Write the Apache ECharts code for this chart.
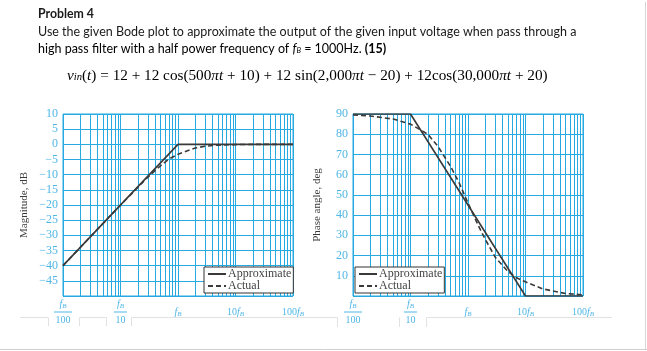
<!DOCTYPE html>
<html><head><meta charset="utf-8">
<script src="https://cdn.jsdelivr.net/npm/echarts@6/dist/echarts.min.js"></script>
<style>html,body{margin:0;padding:0;background:#fff}#c{width:647px;height:351px}</style>
</head><body><div id="c"></div>
<script>
// ---- data (frequency given as f / fB) ----
const freqTickValues = [0.01, 0.1, 1, 10, 100];
const freqTickLabels = [
  '{f|f}{s|B}\n{bar| }\n{d|100}',
  '{f|f}{s|B}\n{bar2| }\n{d|10}',
  '{f|f}{s|B}',
  '{d|10}{f|f}{s|B}',
  '{d|100}{f|f}{s|B}'
];
const minorMultipliers = [2, 3, 4, 5, 6, 7, 8, 9];

const magTickMin = -50, magTickMax = 10, magTickStep = 5;
const phaseTickMin = 0, phaseTickMax = 90, phaseTickStep = 10;

const approxMagFreq = [0.01, 1, 100];
const approxMag     = [-40, 0, 0];
const actualMagFreq = [0.01, 0.05, 0.1, 0.2, 0.3, 0.5, 0.7, 1, 1.5, 2, 3, 5, 10, 30, 100];
const actualMag     = [-40, -26, -20, -14.2, -10.8, -7, -4.8, -3.3, -2, -1.2, -0.6, -0.25, -0.08, 0, 0];

const approxPhaseFreq = [0.01, 0.1, 10, 100];
const approxPhase     = [90, 90, 0, 0];
const actualPhaseFreq = [0.01, 0.02, 0.05, 0.1, 0.2, 0.3, 0.5, 0.7, 1, 1.5, 2, 3, 5, 7, 10, 20, 50, 100];
const actualPhase     = [89.5, 89, 87.5, 85, 80, 74, 64, 56, 46, 35, 28, 19, 12, 9, 7, 3.5, 1.2, 0.6];

const seriesNames = ['Approximate', 'Actual'];

// ---- styles ----
const GRID = '#27aae1';
const LBL = '#4fb6e6';
const INK = '#3a3a3a';
const SERIF = 'Liberation Serif';
const SANS = 'Lato';

const pairs = (xs, ys) => xs.map((x, i) => [x, ys[i]]);
const minorFreqs = [];
freqTickValues.slice(0, -1).forEach(d => minorMultipliers.forEach(m => minorFreqs.push(+(d * m).toPrecision(6))));

const ctx = document.createElement('canvas').getContext('2d');
function w(text, font) { ctx.font = font; return ctx.measureText(text).width; }
function fit(text, fontTpl, target) { return 100 * target / w(text, fontTpl.replace('#', '100px')); }

const line1 = 'Use the given Bode plot to approximate the output of the given input voltage when pass through a';
const bodySize = fit(line1, '# ' + SANS, 539);
const titleSize = fit('Problem 4', 'bold # ' + SANS, 56);

// formula pieces
const fParts = [
  ['i', 'v'], ['sub', 'in'], ['n', '('], ['i', 't'], ['n', ') = 12 + 12 cos(500'], ['i', '\u03c0t'],
  ['n', ' + 10) + 12 sin(2,000'], ['i', '\u03c0t'], ['n', ' \u2212 20) + 12cos(30,000'], ['i', '\u03c0t'], ['n', ' + 20)']
];
let fw = 0;
fParts.forEach(([k, t]) => {
  if (k === 'n') fw += w(t, '100px ' + SERIF);
  else if (k === 'i') fw += w(t, 'italic 100px ' + SERIF);
  else fw += w(t, 'italic 70px ' + SERIF);
});
const fSize = 100 * 481 / fw;
const formulaText = fParts.map(([k, t]) => '{' + k + '|' + t + '}').join('');

function labelFmt(v) {
  const idx = Math.round(Math.log10(v)) + 2;
  return freqTickLabels[idx] || '';
}
const xRich = {
  f: { fontFamily: SERIF, fontStyle: 'italic', fontSize: 10, color: LBL },
  s: { fontFamily: SERIF, fontStyle: 'italic', fontSize: 7, color: LBL, verticalAlign: 'bottom' },
  d: { fontFamily: SERIF, fontSize: 10, color: LBL },
  bar: { width: 18, height: 1, lineHeight: 4, fontSize: 1, backgroundColor: LBL },
  bar2: { width: 13, height: 1, lineHeight: 4, fontSize: 1, backgroundColor: LBL }
};

function xAxisCfg(gi) {
  return {
    gridIndex: gi, type: 'log', logBase: 10, min: 0.01, max: 100,
    axisLine: { show: false }, axisTick: { show: false },
    splitLine: { show: true, lineStyle: { color: GRID, width: 1 } },
    axisLabel: { formatter: labelFmt, rich: xRich, margin: 16, verticalAlign: 'middle', lineHeight: 12 }
  };
}
function yAxisCfg(gi, min, max, step, name, gap) {
  return {
    gridIndex: gi, type: 'value', min: min, max: max, interval: step,
    name: name, nameLocation: 'middle', nameGap: gap, nameRotate: 90,
    nameTextStyle: { fontFamily: SERIF, fontSize: 11, color: INK },
    axisLine: { show: false }, axisTick: { show: false },
    splitLine: { show: true, lineStyle: { color: GRID, width: 1 } },
    axisLabel: {
      margin: 5, fontFamily: SERIF, fontSize: 12, color: LBL,
      formatter: v => (v === min ? '' : (v < 0 ? '\u2212' + (-v) : String(v)))
    }
  };
}
function gridLines(gi) {
  return {
    type: 'line', xAxisIndex: gi, yAxisIndex: gi, data: [], silent: true, z: 0,
    markLine: {
      silent: true, symbol: 'none', animation: false, z: 0,
      label: { show: false },
      lineStyle: { color: GRID, width: 1, type: 'solid' },
      data: minorFreqs.map(v => ({ xAxis: v }))
    }
  };
}
function curve(gi, name, xs, ys, dashed) {
  return {
    type: 'line', name: name, xAxisIndex: gi, yAxisIndex: gi,
    data: pairs(xs, ys), symbol: 'none', smooth: false, z: 5,
    lineStyle: { color: INK, width: 1.6, type: dashed ? [5, 3] : 'solid' },
    itemStyle: { color: INK }
  };
}
function legendCfg(left) {
  return {
    data: seriesNames, orient: 'vertical', left: left, top: 267, z: 50,
    itemGap: 0, itemWidth: 18, itemHeight: 12, padding: [1, 2, 1, 3],
    borderColor: '#333', borderWidth: 1, backgroundColor: '#fff',
    itemStyle: { opacity: 0 },
    textStyle: { fontFamily: SERIF, fontSize: 12, color: '#444', padding: [0, 0, 0, -3] },
    selectedMode: false
  };
}

const chart = echarts.init(document.getElementById('c'), null, { renderer: 'canvas' });
chart.setOption({
  animation: false,
  backgroundColor: '#fff',
  grid: [
    { left: 63, top: 114, width: 230, height: 182, show: true, borderColor: GRID, borderWidth: 1, backgroundColor: 'transparent' },
    { left: 353, top: 114, width: 230, height: 182, show: true, borderColor: GRID, borderWidth: 1, backgroundColor: 'transparent' }
  ],
  xAxis: [xAxisCfg(0), xAxisCfg(1)],
  yAxis: [
    yAxisCfg(0, magTickMin, magTickMax, magTickStep, 'Magnitude, dB', 33),
    yAxisCfg(1, phaseTickMin, phaseTickMax, phaseTickStep, 'Phase angle, deg', 30)
  ],
  legend: [legendCfg(204), legendCfg(355)],
  series: [
    gridLines(0), gridLines(1),
    curve(0, seriesNames[0], approxMagFreq, approxMag, false),
    curve(0, seriesNames[1], actualMagFreq, actualMag, true),
    curve(1, seriesNames[0], approxPhaseFreq, approxPhase, false),
    curve(1, seriesNames[1], actualPhaseFreq, actualPhase, true)
  ],
  graphic: [
    { type: 'text', left: 38, top: 8, style: { text: 'Problem 4', font: 'bold ' + titleSize.toFixed(2) + 'px ' + SANS, fill: '#1a1a1a' } },
    { type: 'text', left: 38, top: 25, style: { text: line1, font: bodySize.toFixed(2) + 'px ' + SANS, fill: '#1a1a1a' } },
    { type: 'text', left: 38, top: 42, style: {
        text: '{n|high pass filter with a half power frequency of }{i|f}{s|B}{n| = 1000Hz. }{b|(15)}',
        rich: {
          n: { fontFamily: SANS, fontSize: bodySize, color: '#1a1a1a' },
          i: { fontFamily: SANS, fontStyle: 'italic', fontSize: bodySize, color: '#1a1a1a' },
          s: { fontFamily: SANS, fontStyle: 'italic', fontSize: bodySize * 0.6, color: '#1a1a1a', verticalAlign: 'bottom' },
          b: { fontFamily: SANS, fontWeight: 'bold', fontSize: bodySize, color: '#1a1a1a' }
        } } },
    { type: 'text', left: 67, top: 68, style: {
        text: formulaText,
        rich: {
          n: { fontFamily: SERIF, fontSize: fSize, color: '#1a1a1a' },
          i: { fontFamily: SERIF, fontStyle: 'italic', fontSize: fSize, color: '#1a1a1a' },
          sub: { fontFamily: SERIF, fontStyle: 'italic', fontSize: fSize * 0.7, color: '#1a1a1a', verticalAlign: 'bottom' }
        } } },
    // page frame remnants
    { type: 'line', shape: { x1: 0, y1: 349.5, x2: 647, y2: 349.5 }, style: { stroke: '#cfcfcf', lineWidth: 1 } },
    { type: 'line', shape: { x1: 645.5, y1: 2, x2: 645.5, y2: 349 }, style: { stroke: '#d6d6d6', lineWidth: 1 } },
    { type: 'polyline', shape: { points: [[20, 317.5], [48.5, 317.5], [48.5, 326]] }, style: { stroke: '#e2e2e2', fill: null, lineWidth: 1 } },
    { type: 'polyline', shape: { points: [[79.5, 326], [79.5, 317.5], [106.5, 317.5], [106.5, 326]] }, style: { stroke: '#e2e2e2', fill: null, lineWidth: 1 } },
    { type: 'polyline', shape: { points: [[131.5, 326], [131.5, 317.5], [337.5, 317.5], [337.5, 327]] }, style: { stroke: '#e2e2e2', fill: null, lineWidth: 1 } },
    { type: 'polyline', shape: { points: [[399.5, 327], [399.5, 317.5]] }, style: { stroke: '#e2e2e2', fill: null, lineWidth: 1 } },
    { type: 'polyline', shape: { points: [[426.5, 327], [426.5, 317.5], [612, 317.5]] }, style: { stroke: '#e2e2e2', fill: null, lineWidth: 1 } }
  ]
});
</script>
</body></html>
